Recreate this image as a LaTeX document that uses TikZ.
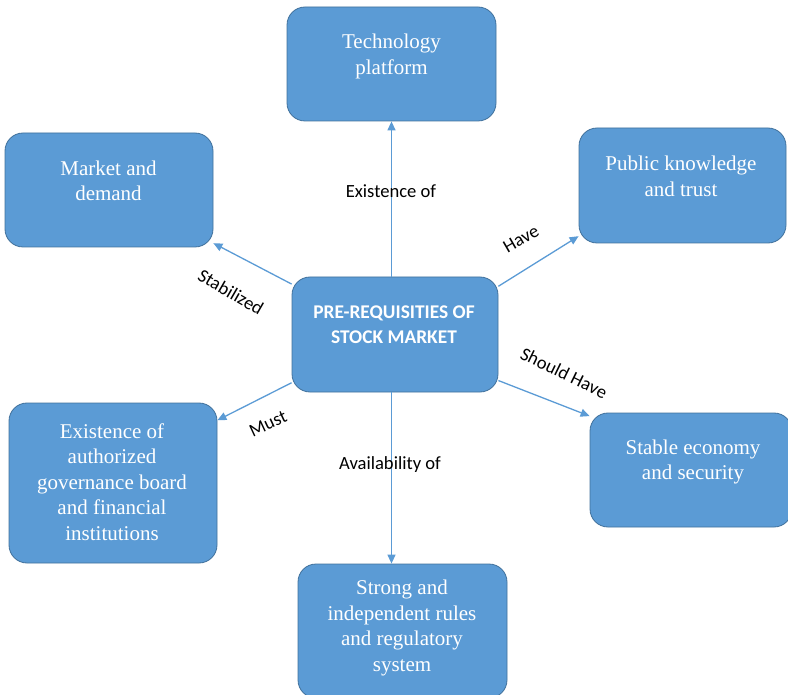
\documentclass[tikz,border=0pt]{standalone}
\usepackage{fontspec}
\setmainfont{Liberation Serif}
\newfontfamily\calib{Carlito}
\usetikzlibrary{arrows.meta}
\definecolor{boxblue}{HTML}{5B9BD5}
\definecolor{boxedge}{HTML}{41719C}
\begin{document}
\begin{tikzpicture}[x=1pt,y=-1pt,
  box/.style={draw=boxedge, line width=0.8pt, fill=boxblue, rounded corners=18pt, inner sep=0pt},
  btxt/.style={text=white, align=center, font=\fontsize{21}{25.5}\selectfont, inner sep=0pt},
  ctxt/.style={text=white, align=center, font=\calib\bfseries\fontsize{19.4}{25}\selectfont, inner sep=0pt},
  lbl/.style={font=\calib\fontsize{18.6}{20}\selectfont, inner sep=0pt},
  arr/.style={draw=boxblue, line width=1.3pt, -{Triangle[length=9pt,width=8pt]}}]
\useasboundingbox (0,0) rectangle (788,695);
\clip (0,0) rectangle (788,695);
% boxes
\node[box, minimum width=209pt, minimum height=114pt] (tech) at (391.5,64) {};
\node[box, minimum width=208pt, minimum height=114pt] (market) at (109,190) {};
\node[box, minimum width=207pt, minimum height=115pt] (public) at (682.5,185.5) {};
\node[box, minimum width=206pt, minimum height=115pt] (center) at (395,334.5) {};
\node[box, minimum width=208pt, minimum height=160pt] (exist) at (113,483) {};
\node[box, minimum width=202pt, minimum height=114pt] (stable) at (691,470) {};
\node[box, minimum width=209pt, minimum height=134pt] (strong) at (402.5,631) {};
% texts
\node[btxt] (techT) at (391.5,56.5) {Technology\\platform};
\node[btxt] (marketT) at (108.5,181) {Market and\\demand};
\node[btxt] (publicT) at (681,176.5) {Public knowledge\\and trust};
\node[ctxt] (centerT) at (394,324.5) {PRE-REQUISITIES OF\\STOCK MARKET};
\node[btxt] (existT) at (112,482) {Existence of\\authorized\\governance board\\and financial\\institutions};
\node[btxt] (stableT) at (693,462) {Stable economy\\and security};
\node[btxt] (strongT) at (402,628) {Strong and\\independent rules\\and regulatory\\system};
% connectors
\draw[arr] (tech.south |- center.north) -- (tech.south);
\draw[arr] (center.154.6) -- (market.-27);
\draw[arr] (center.25.9) -- (public.206.7);
\draw[arr] (center.205.4) -- (exist.31.9);
\draw[arr] (center.-24.5) -- (stable.152.7);
\draw[arr] (tech.south |- center.south) -- (tech.south |- strong.north);
% labels
\node[lbl] (l1) at (391,191) {Existence of};
\node[lbl, rotate=-30] (l2) at (231,292) {Stabilized};
\node[lbl, rotate=30] (l3) at (521,239) {Have};
\node[lbl, rotate=-26] (l4) at (564,373) {Should Have};
\node[lbl, rotate=25] (l5) at (268,424) {Must};
\node[lbl] (l6) at (390,465) {Availability of};
\end{tikzpicture}
\end{document}
